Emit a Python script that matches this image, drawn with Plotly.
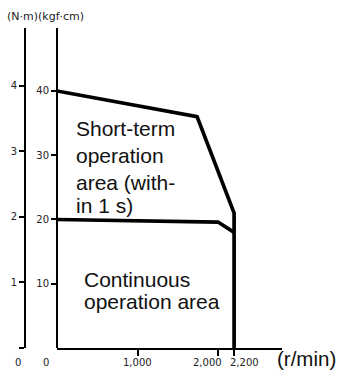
import plotly.graph_objs as go

# torque limits in kgf·cm against speed in r/min
short_rpm = [0, 1740, 2200, 2200]
short_kgf = [40, 36, 21, 0]
cont_rpm = [0, 2000, 2200]
cont_kgf = [20, 19.6, 18]

kgf_ticks = [10, 20, 30, 40]
nm_ticks = [0, 1, 2, 3, 4]
nm_labels = ['', '1', '2', '3', '4']
x_ticks = [1000, 2000, 2200]
x_labels = ['1,000', '2,000', '2,200']
x_label_shift = [0, -11, 10]

KGF_PER_NM = 10.197
Y_TOP = 49.8
X_TOP = 2795
D0 = 32 / 257  # where the kgf·cm axis sits inside the plot area

TICK_FONT = dict(family='DejaVu Sans', size=10, color='#222')
TEXT_FONT = dict(family='Liberation Sans, Arial', size=21, color='#111')

fig = go.Figure()

fig.add_trace(go.Scatter(x=short_rpm, y=short_kgf, mode='lines',
                         line=dict(color='black', width=3.7),
                         showlegend=False, hoverinfo='skip'))
# continuous curve drawn on the N·m axis (same scale, converted units)
fig.add_trace(go.Scatter(x=cont_rpm, y=[v / KGF_PER_NM for v in cont_kgf], mode='lines',
                         yaxis='y2', line=dict(color='black', width=3.7),
                         showlegend=False, hoverinfo='skip'))

fig.update_layout(
    width=338, height=381,
    margin=dict(l=25, r=56, t=28, b=33),
    paper_bgcolor='white', plot_bgcolor='white',
    xaxis=dict(domain=[D0, 1], range=[0, X_TOP], showgrid=False, zeroline=False,
               showline=True, linecolor='black', linewidth=2,
               ticks='outside', ticklen=6, tickwidth=1.5, tickcolor='black',
               tickvals=x_ticks, showticklabels=False),
    yaxis=dict(anchor='free', position=D0, range=[0, Y_TOP], showgrid=False,
               zeroline=False, showline=True, linecolor='black', linewidth=2,
               ticks='outside', ticklen=5, tickwidth=1.5, tickcolor='black',
               tickvals=kgf_ticks, ticktext=[str(v) for v in kgf_ticks],
               tickfont=TICK_FONT),
    yaxis2=dict(overlaying='y', anchor='free', position=0, side='left',
                range=[0, Y_TOP / KGF_PER_NM], showgrid=False, zeroline=False,
                showline=True, linecolor='black', linewidth=2,
                ticks='outside', ticklen=5, tickwidth=1.5, tickcolor='black',
                tickvals=nm_ticks, ticktext=nm_labels, tickfont=TICK_FONT),
)

ann = []
# x tick labels
for v, t, s in zip(x_ticks, x_labels, x_label_shift):
    ann.append(dict(x=v, xref='x', y=0, yref='paper', text=t, showarrow=False,
                    xshift=s, yshift=-14, yanchor='middle', font=TICK_FONT))
# zero labels under both vertical axes
ann.append(dict(x=0, xref='x', y=0, yref='paper', text='0', showarrow=False,
                xshift=-11, yshift=-14, yanchor='middle', font=TICK_FONT))
ann.append(dict(x=0, xref='paper', y=0, yref='paper', text='0', showarrow=False,
                xshift=-12, yshift=-14, yanchor='middle', font=TICK_FONT))
# units
ann.append(dict(x=0, xref='paper', y=1, yref='paper', text='(N·m)(kgf·cm)',
                showarrow=False, xanchor='left', yanchor='middle',
                xshift=-20, yshift=12, font=dict(family='DejaVu Sans', size=11, color='#222')))
ann.append(dict(x=0.973, xref='paper', y=0, yref='paper', text='(r/min)',
                showarrow=False, xanchor='left', yanchor='middle', yshift=-10,
                font=dict(family='Liberation Sans, Arial', size=20.5, color='#111')))

# region labels
short_lines = ['Short-term', 'operation', 'area (with-', 'in 1 s)']
short_y = [34.2, 29.9, 25.8, 22.1]
for t, y in zip(short_lines, short_y):
    ann.append(dict(x=211, xref='x', y=y, yref='y', text=t, showarrow=False,
                    xanchor='left', yanchor='middle', font=TEXT_FONT))
cont_lines = ['Continuous', 'operation area']
cont_y = [10.6, 7.2]
for t, y in zip(cont_lines, cont_y):
    ann.append(dict(x=311, xref='x', y=y, yref='y', text=t, showarrow=False,
                    xanchor='left', yanchor='middle', font=TEXT_FONT))

fig.update_layout(annotations=ann)

fig.write_html("out.html", config={'displayModeBar': False},
               post_script="document.body.style.margin = '0';")
